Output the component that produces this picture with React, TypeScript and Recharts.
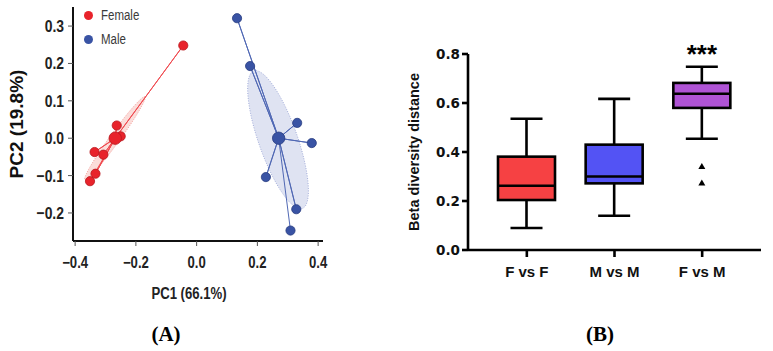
import React from 'react';
import { ScatterChart, Scatter, ComposedChart, Bar, XAxis, YAxis, Legend } from 'recharts';

// ---- PCA scores (panel A) ----
const femalePC1 = [-0.044, -0.263, -0.25, -0.336, -0.307, -0.333, -0.351];
const femalePC2 = [0.248, 0.034, 0.005, -0.037, -0.044, -0.095, -0.115];
const malePC1 = [0.133, 0.176, 0.331, 0.379, 0.228, 0.328, 0.309];
const malePC2 = [0.321, 0.193, 0.041, -0.013, -0.104, -0.19, -0.247];
const femaleCentroid = [-0.268, 0.0];
const maleCentroid = [0.27, 0.0];
// confidence ellipse: centre, semi-major and semi-minor vectors (PC units)
const femaleEllipse = { centre: [-0.269, 0.0], major: [0.099, 0.111], minor: [0.013, -0.008] };
const maleEllipse = { centre: [0.268, -0.004], major: [-0.08, 0.184], minor: [0.06, 0.018] };
const pcaXTicks = [-0.4, -0.2, 0, 0.2, 0.4];
const pcaYTicks = [-0.2, -0.1, 0, 0.1, 0.2, 0.3];

// ---- beta diversity distances (panel B) ----
const groups = ['F vs F', 'M vs M', 'F vs M'];
const whiskerLow = [0.09, 0.14, 0.454];
const quartile1 = [0.204, 0.272, 0.58];
const medians = [0.262, 0.3, 0.638];
const quartile3 = [0.381, 0.43, 0.682];
const whiskerHigh = [0.536, 0.617, 0.748];
const outliers = [[], [], [0.341, 0.273]];
const significance = ['', '', '***'];
const distanceTicks = [0, 0.2, 0.4, 0.6, 0.8];

const FEMALE = '#E8232B';
const MALE = '#3953A4';
const BOX_FILLS = ['#F64143', '#5353F4', '#AF53D5'];
const SANS = "'Liberation Sans', Arial, sans-serif";
const NARROW_SCALE = 0.82; // condensed look for the PCA panel text

const toPoints = (xs: number[], ys: number[]) => xs.map((x, i) => ({ x, y: ys[i] }));
const femalePoints = toPoints(femalePC1, femalePC2);
const malePoints = toPoints(malePC1, malePC2);

// centroid -> sample -> centroid ... so one path draws the whole star
const spider = (c: number[], pts: { x: number; y: number }[]) =>
  pts.flatMap((p) => [{ x: c[0], y: c[1] }, p]);

const ellipseOutline = (e: { centre: number[]; major: number[]; minor: number[] }, steps = 90) =>
  Array.from({ length: steps }, (_, i) => {
    const t = (i / steps) * Math.PI * 2;
    return {
      x: e.centre[0] + Math.cos(t) * e.major[0] + Math.sin(t) * e.minor[0],
      y: e.centre[1] + Math.cos(t) * e.major[1] + Math.sin(t) * e.minor[1],
    };
  });

const fmtSigned = (v: number) => (v < 0 ? '\u2212' + Math.abs(v).toFixed(1) : v.toFixed(1));

const noShape = () => <g />;
const dot = (r: number, fill: string, stroke: string) => (p: any) =>
  <circle cx={p.cx} cy={p.cy} r={r} fill={fill} stroke={stroke} strokeWidth={0.8} />;

// tick label squeezed horizontally
const NarrowTick = (props: any) => {
  const { x, y, payload, textAnchor, size, vertical } = props;
  return (
    <text transform={`translate(${x} ${y}) scale(${NARROW_SCALE} 1)`} textAnchor={textAnchor}
      dy={vertical ? '0.355em' : '0.71em'} fontFamily={SANS} fontWeight="bold" fontSize={size} fill="#222">
      {fmtSigned(payload.value)}
    </text>
  );
};

const VerticalTitle = (props: any) => {
  const { viewBox, title, shiftX, fontSize } = props;
  const cx = viewBox.x + shiftX;
  const cy = viewBox.y + viewBox.height / 2;
  return (
    <text x={cx} y={cy} transform={`rotate(-90 ${cx} ${cy})`} textAnchor="middle" dominantBaseline="central"
      fontFamily={SANS} fontWeight="bold" fontSize={fontSize} fill="#111">
      {title}
    </text>
  );
};

const HorizontalTitle = (props: any) => {
  const { viewBox, title, shiftX, shiftY } = props;
  const x = viewBox.x + viewBox.width / 2 + shiftX;
  const y = viewBox.y + shiftY;
  return (
    <text transform={`translate(${x} ${y}) scale(${NARROW_SCALE} 1)`} textAnchor="middle" dominantBaseline="central"
      fontFamily={SANS} fontWeight="bold" fontSize={16} fill="#222">
      {title}
    </text>
  );
};

const legendItems = [
  { label: 'Female', color: FEMALE },
  { label: 'Male', color: MALE },
];

const PcaLegend = () => (
  <div style={{ fontFamily: SANS, fontSize: 14, color: '#3a3a3a' }}>
    {legendItems.map((it) => (
      <div key={it.label} style={{ display: 'flex', alignItems: 'center', height: 24 }}>
        <span style={{ width: 9, height: 9, borderRadius: '50%', background: it.color, marginRight: 8 }} />
        <span style={{ display: 'inline-block', transform: `scaleX(${NARROW_SCALE})`, transformOrigin: 'left center' }}>
          {it.label}
        </span>
      </div>
    ))}
  </div>
);

const PcaPlot = () => (
  <ScatterChart width={360} height={310} margin={{ top: 7, right: 37, bottom: 29, left: 23 }}>
    <XAxis type="number" dataKey="x" domain={[-0.407, 0.416]} ticks={pcaXTicks} allowDataOverflow
      height={40} axisLine={{ stroke: '#111', strokeWidth: 2 }}
      tickLine={{ stroke: '#555', strokeWidth: 1 }} tickSize={5} tickMargin={11}
      tick={<NarrowTick size={16} />}
      label={<HorizontalTitle title="PC1 (66.1%)" shiftX={-9} shiftY={53} />} />
    <YAxis type="number" dataKey="y" domain={[-0.275, 0.351]} ticks={pcaYTicks} allowDataOverflow
      width={50} axisLine={{ stroke: '#111', strokeWidth: 2 }}
      tickLine={{ stroke: '#555', strokeWidth: 1 }} tickSize={5} tickMargin={4}
      tick={<NarrowTick size={17} vertical />}
      label={<VerticalTitle title="PC2 (19.8%)" shiftX={-7} fontSize={19} />} />
    <Legend layout="vertical" align="center" verticalAlign="middle" content={<PcaLegend />}
      wrapperStyle={{ left: 84, top: 3, width: 'auto' }} />

    <Scatter data={ellipseOutline(femaleEllipse)} shape={noShape} legendType="none" isAnimationActive={false}
      fill="#F08C86" lineJointType="linearClosed"
      line={{ fill: 'rgba(244, 150, 140, 0.32)', stroke: '#F08C86', strokeWidth: 0.8, strokeDasharray: '1 1.5' }} />
    <Scatter data={ellipseOutline(maleEllipse)} shape={noShape} legendType="none" isAnimationActive={false}
      fill="#8E9BCF" lineJointType="linearClosed"
      line={{ fill: 'rgba(150, 162, 212, 0.3)', stroke: '#8E9BCF', strokeWidth: 0.8, strokeDasharray: '1 1.5' }} />

    <Scatter data={spider(femaleCentroid, femalePoints)} shape={noShape} legendType="none" isAnimationActive={false}
      fill={FEMALE} line={{ stroke: '#F04A50', strokeWidth: 1 }} />
    <Scatter data={spider(maleCentroid, malePoints)} shape={noShape} legendType="none" isAnimationActive={false}
      fill={MALE} line={{ stroke: '#5068B4', strokeWidth: 1 }} />

    <Scatter name="Female" data={femalePoints} shape={dot(4.6, FEMALE, '#B8161D')} isAnimationActive={false} />
    <Scatter name="Male" data={malePoints} shape={dot(4.6, MALE, '#283C80')} isAnimationActive={false} />
    <Scatter data={[{ x: femaleCentroid[0], y: femaleCentroid[1] }]} shape={dot(6.2, FEMALE, '#B8161D')}
      legendType="none" isAnimationActive={false} />
    <Scatter data={[{ x: maleCentroid[0], y: maleCentroid[1] }]} shape={dot(6.2, MALE, '#283C80')}
      legendType="none" isAnimationActive={false} />
  </ScatterChart>
);

const boxData = groups.map((name, i) => ({
  name,
  range: [whiskerLow[i], whiskerHigh[i]],
  min: whiskerLow[i],
  q1: quartile1[i],
  median: medians[i],
  q3: quartile3[i],
  max: whiskerHigh[i],
  outliers: outliers[i],
  sig: significance[i],
  fill: BOX_FILLS[i],
}));

// Bar holds the whisker range; quartiles are placed on the same linear scale
const BoxShape = (props: any) => {
  const { x, y, width, height, payload } = props;
  const top = Math.min(y, y + height);
  const h = Math.abs(height);
  const toY = (v: number) => top + ((payload.max - v) / (payload.max - payload.min)) * h;
  const cx = x + width / 2;
  const cap = 16;
  const sw = 2.6;
  return (
    <g>
      <line x1={cx} x2={cx} y1={toY(payload.max)} y2={toY(payload.q3)} stroke="#000" strokeWidth={sw} />
      <line x1={cx} x2={cx} y1={toY(payload.q1)} y2={toY(payload.min)} stroke="#000" strokeWidth={sw} />
      <line x1={cx - cap} x2={cx + cap} y1={toY(payload.max)} y2={toY(payload.max)} stroke="#000" strokeWidth={sw} />
      <line x1={cx - cap} x2={cx + cap} y1={toY(payload.min)} y2={toY(payload.min)} stroke="#000" strokeWidth={sw} />
      <rect x={x} y={toY(payload.q3)} width={width} height={toY(payload.q1) - toY(payload.q3)}
        fill={payload.fill} stroke="#000" strokeWidth={sw} />
      <line x1={x} x2={x + width} y1={toY(payload.median)} y2={toY(payload.median)} stroke="#000" strokeWidth={sw} />
      {payload.outliers.map((v: number, k: number) => {
        const oy = toY(v);
        return <path key={k} d={`M${cx},${oy - 3.5} L${cx + 3.5},${oy + 2.5} L${cx - 3.5},${oy + 2.5} Z`} fill="#000" />;
      })}
      {payload.sig && (
        <text x={cx} y={toY(payload.max) - 3.5} textAnchor="middle" fontFamily={SANS} fontWeight="bold"
          fontSize={26} fill="#000">
          {payload.sig}
        </text>
      )}
    </g>
  );
};

const DistanceBoxPlot = () => (
  <ComposedChart width={393} height={300} data={boxData} margin={{ top: 54, right: 12, bottom: 20, left: 38 }}>
    <XAxis dataKey="name" type="category" height={30} padding={{ left: 15, right: 15 }}
      axisLine={{ stroke: '#000', strokeWidth: 2.6 }} tickLine={{ stroke: '#000', strokeWidth: 2.6 }}
      tickSize={7} tickMargin={9} tick={{ fontFamily: SANS, fontWeight: 'bold', fontSize: 15, fill: '#111' }} />
    <YAxis type="number" domain={[0, 0.8]} ticks={distanceTicks} tickFormatter={(v: number) => v.toFixed(1)}
      width={50} axisLine={{ stroke: '#000', strokeWidth: 2.6 }} tickLine={{ stroke: '#000', strokeWidth: 2.6 }}
      tickSize={6} tickMargin={2} tick={{ fontFamily: "'DejaVu Sans', sans-serif", fontWeight: 'bold', fontSize: 13.5, fill: '#111' }}
      label={<VerticalTitle title="Beta diversity distance" shiftX={-4} fontSize={14.5} />} />
    <Bar dataKey="range" barSize={57} shape={<BoxShape />} isAnimationActive={false} />
  </ComposedChart>
);

const panelTag = (cx: number): React.CSSProperties => ({
  position: 'absolute',
  left: cx - 30,
  top: 321,
  width: 60,
  textAlign: 'center',
  lineHeight: '26px',
  fontFamily: "'Liberation Serif', 'Times New Roman', serif",
  fontWeight: 'bold',
  fontSize: 21,
  color: '#000',
});

export default function App() {
  return (
    <div style={{ position: 'absolute', left: 0, top: 0, width: 773, height: 351, background: '#fff', overflow: 'hidden' }}>
      <div style={{ position: 'absolute', left: 0, top: 0 }}>
        <PcaPlot />
      </div>
      <div style={{ position: 'absolute', left: 380, top: 0 }}>
        <DistanceBoxPlot />
      </div>
      <div style={panelTag(166)}>(A)</div>
      <div style={panelTag(600)}>(B)</div>
    </div>
  );
}
